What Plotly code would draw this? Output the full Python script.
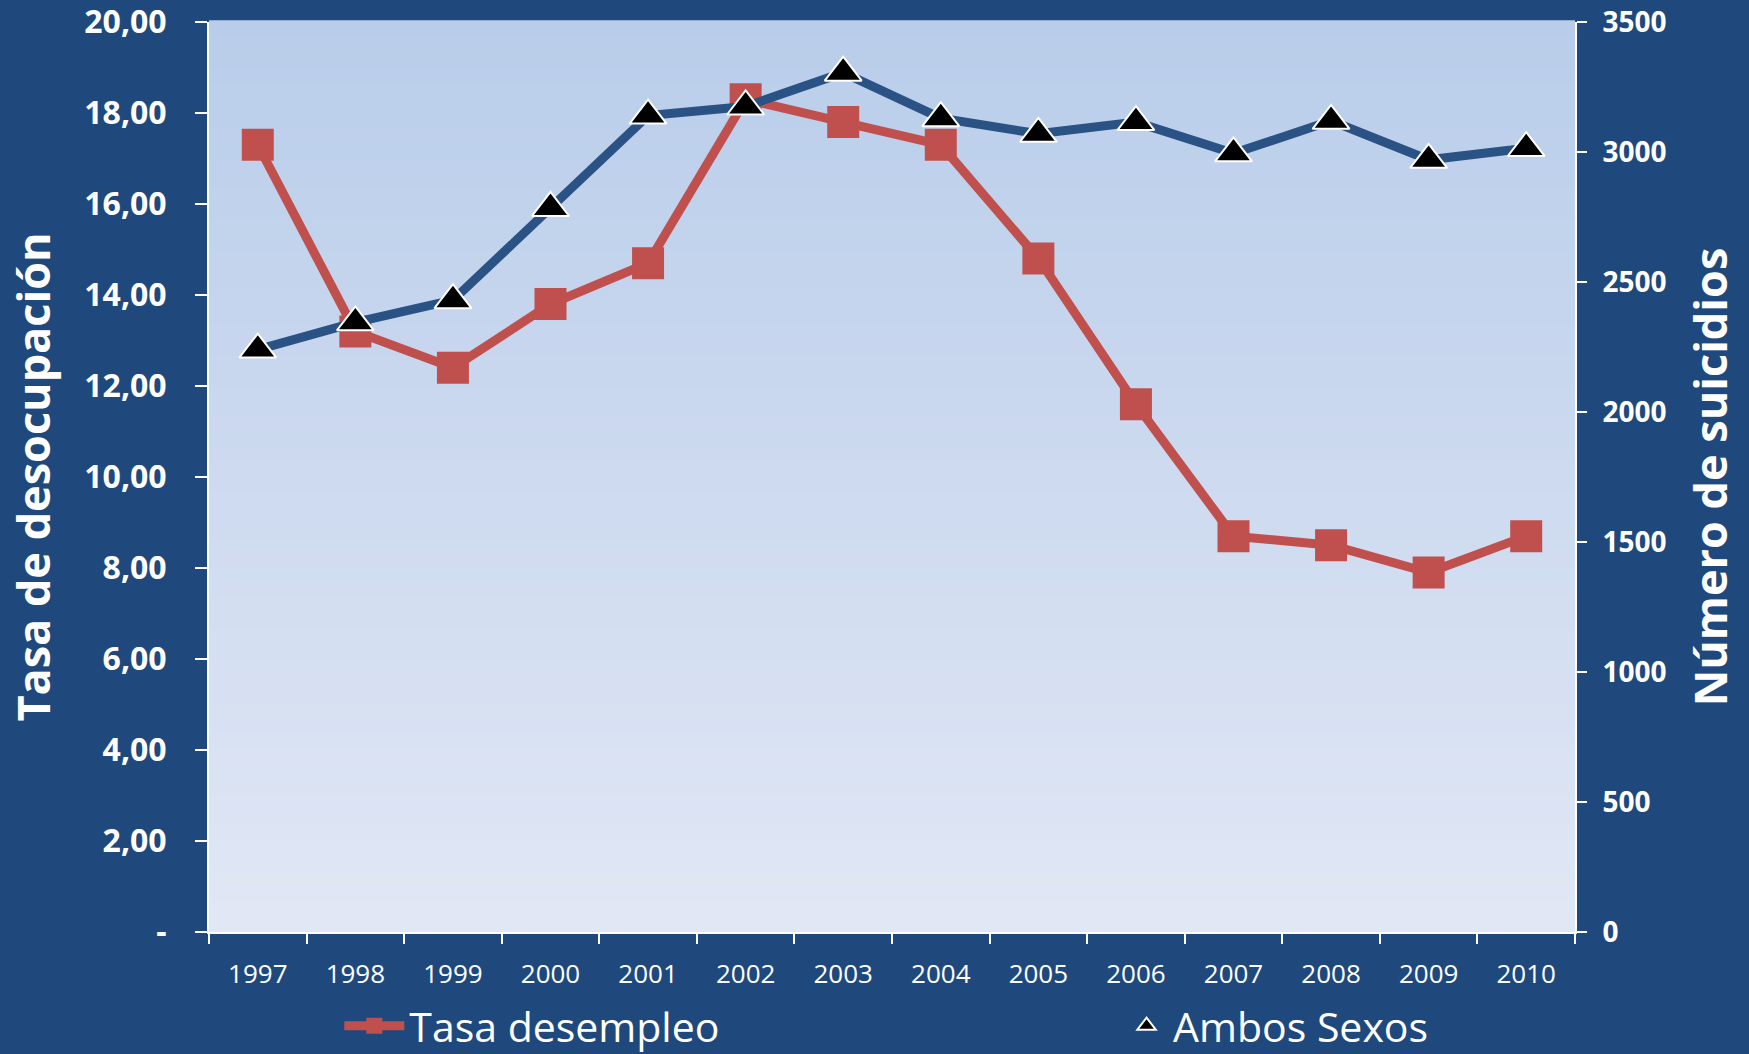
import plotly.graph_objects as go

years = ["1997", "1998", "1999", "2000", "2001", "2002", "2003", "2004",
         "2005", "2006", "2007", "2008", "2009", "2010"]
tasa_desempleo = [17.3, 13.2, 12.4, 13.8, 14.7, 18.3, 17.8, 17.3, 14.8, 11.6, 8.7, 8.5, 7.9, 8.7]
ambos_sexos = [2240, 2345, 2430, 2785, 3140, 3175, 3305, 3130, 3070, 3115, 2995, 3120, 2970, 3015]

left_ticks = [0, 2, 4, 6, 8, 10, 12, 14, 16, 18, 20]
left_ticktext = ["-", "2,00", "4,00", "6,00", "8,00", "10,00", "12,00", "14,00", "16,00", "18,00", "20,00"]
right_ticks = [0, 500, 1000, 1500, 2000, 2500, 3000, 3500]

BG = "#1F497D"
RED = "#C0504D"
BLUE = "#2A5285"
FONT = "Open Sans"

fig = go.Figure()

fig.add_trace(go.Scatter(
    x=years, y=tasa_desempleo, name="Tasa desempleo", mode="lines+markers",
    line=dict(color=RED, width=9),
    marker=dict(symbol="square", size=32, color=RED),
    yaxis="y", legend="legend"))

fig.add_trace(go.Scatter(
    x=years, y=ambos_sexos, name="Ambos Sexos line", mode="lines",
    line=dict(color=BLUE, width=9), showlegend=False, yaxis="y2"))

fig.add_trace(go.Scatter(
    x=years, y=ambos_sexos, name="Ambos Sexos", mode="markers",
    marker=dict(symbol="triangle-up", size=32, color="black",
                line=dict(color="white", width=2)),
    yaxis="y2", legend="legend2"))

# vertical gradient plot background
n = 60
top = (185, 205, 234)
bot = (225, 231, 245)
shapes = []
for i in range(n):
    t = i / (n - 1)
    c = tuple(round(bot[k] + (top[k] - bot[k]) * t) for k in range(3))
    shapes.append(dict(type="rect", xref="x domain", yref="y domain",
                       x0=0, x1=1, y0=i / n, y1=(i + 1) / n + 0.002,
                       fillcolor=f"rgb{c}", line=dict(width=0), layer="below"))

legend_common = dict(orientation="h", xref="container", yref="container",
                     y=1 - 1026 / 1054, yanchor="middle", xanchor="left",
                     font=dict(size=41, color="white", family=FONT),
                     bgcolor="rgba(0,0,0,0)")

fig.update_layout(
    width=1749, height=1054,
    paper_bgcolor=BG, plot_bgcolor=BG,
    margin=dict(l=209, r=174, t=22, b=122, autoexpand=False),
    shapes=shapes,
    font=dict(family=FONT, color="white"),
    xaxis=dict(type="category", tickson="boundaries", ticks="outside", ticklen=10,
               tickcolor="white", tickwidth=2, showline=True, linecolor="white", linewidth=2,
               showgrid=False, tickfont=dict(size=26, color="white", family=FONT),
               ticklabelstandoff=18, range=[-0.5, 13.5], automargin=False),
    yaxis=dict(range=[0, 20], tickvals=left_ticks, ticktext=left_ticktext,
               ticks="outside", ticklen=12, tickcolor="white", tickwidth=2,
               showline=True, linecolor="white", linewidth=2, showgrid=False, zeroline=False,
               tickfont=dict(size=32, color="white", family=FONT, weight="bold"),
               ticklabelstandoff=22, automargin=False, ticklabeloverflow="allow",
               title=dict(text="Tasa de desocupación", standoff=20,
                          font=dict(size=45, color="white", family=FONT, weight="bold"))),
    yaxis2=dict(range=[0, 3500], tickvals=right_ticks, overlaying="y", side="right",
                ticks="outside", ticklen=10, tickcolor="white", tickwidth=2,
                showline=True, linecolor="white", linewidth=2, showgrid=False, zeroline=False,
                tickfont=dict(size=28, color="white", family=FONT, weight="bold"),
                ticklabelstandoff=10, automargin=False, ticklabeloverflow="allow",
                title=dict(text="Número de suicidios", standoff=30,
                           font=dict(size=45, color="white", family=FONT, weight="bold"))),
    legend=dict(legend_common, x=0.194, itemwidth=60),
    legend2=dict(legend_common, x=0.6404, itemwidth=43),
    showlegend=True,
)

fig.write_html("out.html", config={"displayModeBar": False},
               post_script="document.body.style.margin='0';document.body.style.overflow='hidden';")
